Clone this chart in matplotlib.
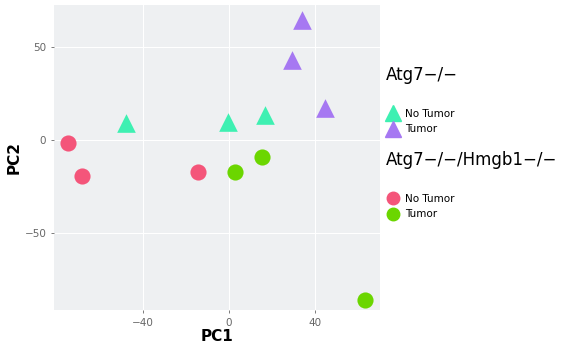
import matplotlib.pyplot as plt
from matplotlib.lines import Line2D

# Atg7-/- samples (triangles)
atg7_no_x = [-47.9, -0.3, 16.7]
atg7_no_y = [9.2, 9.8, 13.4]
atg7_tu_x = [33.8, 29.2, 44.7]
atg7_tu_y = [64.5, 43.0, 17.0]

# Atg7-/-/Hmgb1-/- samples (circles)
dko_no_x = [-74.7, -68.5, -14.3]
dko_no_y = [-1.8, -19.4, -17.4]
dko_tu_x = [2.8, 15.2, 63.3]
dko_tu_y = [-17.4, -9.0, -86.0]

c_red = '#F4557A'
c_green = '#6BD600'
c_teal = '#3EF0B2'
c_purple = '#A678F2'

fig = plt.figure(figsize=(5.65, 3.45), dpi=100)
ax = fig.add_axes([54 / 565, 1 - 310 / 345, 326 / 565, 305 / 345])
ax.set_facecolor('#EEF0F2')
for s in ax.spines.values():
    s.set_visible(False)
ax.grid(True, color='white', linewidth=0.8)
ax.set_axisbelow(True)

ax.scatter(atg7_no_x, atg7_no_y, marker='^', s=180, color=c_teal, linewidths=0)
ax.scatter(atg7_tu_x, atg7_tu_y, marker='^', s=180, color=c_purple, linewidths=0)
ax.scatter(dko_no_x, dko_no_y, marker='o', s=135, color=c_red, linewidths=0)
ax.scatter(dko_tu_x, dko_tu_y, marker='o', s=135, color=c_green, linewidths=0)

ax.set_xlim(-81.4, 70.2)
ax.set_ylim(-91.4, 72.6)
ax.set_xticks([-40, 0, 40])
ax.set_yticks([-50, 0, 50])
ax.tick_params(colors='#666666', labelsize=7.5, length=2, width=0.6)
ax.set_xlabel('PC1', fontsize=11, fontweight='bold', labelpad=1)
ax.set_ylabel('PC2', fontsize=11, fontweight='bold', labelpad=2)

h1 = [Line2D([], [], marker='^', linestyle='', markersize=11, color=c_teal, label='No Tumor'),
      Line2D([], [], marker='^', linestyle='', markersize=11, color=c_purple, label='Tumor')]
h2 = [Line2D([], [], marker='o', linestyle='', markersize=9, color=c_red, label='No Tumor'),
      Line2D([], [], marker='o', linestyle='', markersize=9, color=c_green, label='Tumor')]

leg1 = fig.legend(handles=h1, title='Atg7\u2212/\u2212', loc='upper left',
                  bbox_to_anchor=(386 / 565, 1 - 66 / 345), frameon=False,
                  fontsize=7.5, title_fontsize=12, handletextpad=0.5,
                  labelspacing=0.5, handlelength=1.3, borderaxespad=0, borderpad=0)
leg1._legend_box.align = 'left'
leg1._legend_box.sep = 18
leg2 = fig.legend(handles=h2, title='Atg7\u2212/\u2212/Hmgb1\u2212/\u2212', loc='upper left',
                  bbox_to_anchor=(386 / 565, 1 - 151 / 345), frameon=False,
                  fontsize=7.5, title_fontsize=12, handletextpad=0.5,
                  labelspacing=0.5, handlelength=1.3, borderaxespad=0, borderpad=0)
leg2._legend_box.align = 'left'
leg2._legend_box.sep = 18

fig.savefig('out.png', dpi=100)
